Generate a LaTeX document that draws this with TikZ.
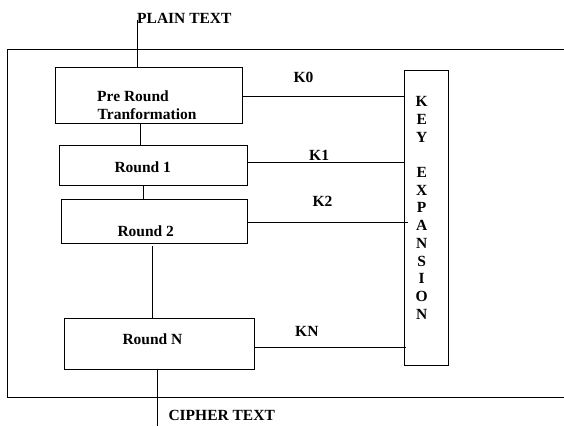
\documentclass[tikz,border=0pt]{standalone}
\usepackage{fontspec}
\setmainfont{Liberation Serif}
\begin{document}
\begin{tikzpicture}[x=1pt,y=-1pt,
  box/.style={draw=black, line width=0.8pt, inner sep=0pt, anchor=north west},
  lbl/.style={font=\fontsize{15.5}{18}\selectfont\bfseries, inner sep=0pt},
  conn/.style={draw=black, line width=0.8pt}]
\useasboundingbox (0,0) rectangle (564,426);
% outer frame (open to the right)
\draw[line width=0.9pt] (566,49) -- (7,49) -- (7,397) -- (566,397);
% boxes
\node[box, minimum width=187pt, minimum height=56pt] (pre) at (55,67) {};
\node[box, minimum width=188pt, minimum height=40pt] (r1) at (59,145) {};
\node[box, minimum width=186pt, minimum height=44pt] (r2) at (61,199) {};
\node[box, minimum width=190pt, minimum height=51pt] (rn) at (64,318) {};
\node[box, minimum width=44pt, minimum height=295pt] (key) at (404,70) {};
% box texts
\node[lbl, anchor=base west] (tpre1) at (97,101.7) {Pre Round};
\node[lbl, anchor=base west] (tpre2) at (97.5,119) {Tranformation};
\node[lbl, anchor=base west] (tr1) at (114.3,172.3) {Round 1};
\node[lbl, anchor=base west] (tr2) at (117.3,236.3) {Round 2};
\node[lbl, anchor=base west] (trn) at (122.3,344) {Round N};
\node[lbl, anchor=base west] (tplain) at (137,23.3) {PLAIN TEXT};
\node[lbl, anchor=base west] (tcipher) at (168.3,420) {CIPHER TEXT};
\node[lbl, anchor=base west] (tk0) at (293.3,82.7) {K0};
\node[lbl, anchor=base west] (tk1) at (309,160) {K1};
\node[lbl, anchor=base west] (tk2) at (312.3,206.7) {K2};
\node[lbl, anchor=base west] (tkn) at (295,336) {KN};
\foreach \l/\i in {K/0,E/1,Y/2,E/4,X/5,P/6,A/7,N/8,S/9,I/10,O/11,N/12}
  \node[lbl, anchor=base] (k\i) at (421.7,106.7+\i*17.7) {\l};
% connectors
\coordinate (ptop) at (137,20);
\coordinate (cbot) at (157,426);
\draw[conn] (ptop) -- (ptop |- pre.north);
\draw[conn] (pre.south -| 140,0) -- (r1.north -| 140,0);
\draw[conn] (r1.south -| 143,0) -- (r2.north -| 143,0);
\draw[conn] (r2.south -| 152,0) ++(0,2) -- (rn.north -| 152,0);
\draw[conn] (rn.south -| cbot) -- (cbot);
\draw[conn] (pre.east |- 0,96) -- (key.west |- 0,96);
\draw[conn] (r1.east |- 0,162) -- (key.west |- 0,162);
\draw[conn] (r2.east |- 0,222) -- ([xshift=4pt]key.west |- 0,222);
\draw[conn] (rn.east |- 0,347) -- ([xshift=2pt]key.west |- 0,347);
\end{tikzpicture}
\end{document}
